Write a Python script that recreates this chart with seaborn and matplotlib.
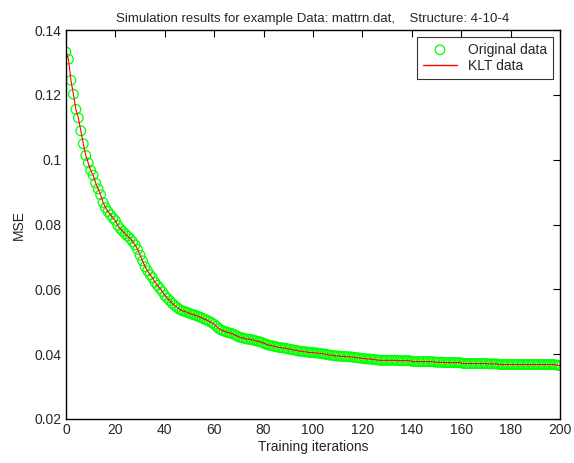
import matplotlib
matplotlib.use('Agg')
import matplotlib.pyplot as plt
import seaborn as sns
import numpy as np
import pandas as pd

# iterations 0..200
iterations = list(range(201))

mse_original = [
    0.1332, 0.1310, 0.1245, 0.1202, 0.1155, 0.1129, 0.1089, 0.1049, 0.1013, 0.0990,
    0.0967, 0.0952, 0.0928, 0.0910, 0.0892, 0.0868, 0.0852, 0.0840, 0.0830, 0.0820,
    0.0812, 0.0797, 0.0787, 0.0779, 0.0771, 0.0764, 0.0756, 0.0747, 0.0737, 0.0723,
    0.0705, 0.0688, 0.0670, 0.0657, 0.0645, 0.0636, 0.0622, 0.0612, 0.0603, 0.0593,
    0.0581, 0.0573, 0.0565, 0.0557, 0.0550, 0.0544, 0.0538, 0.0534, 0.0532, 0.0529,
    0.0526, 0.0523, 0.0521, 0.0518, 0.0515, 0.0512, 0.0508, 0.0505, 0.0501, 0.0497,
    0.0492, 0.0485, 0.0478, 0.0474, 0.0471, 0.0468, 0.0466, 0.0464, 0.0461, 0.0457,
    0.0453, 0.0451, 0.0449, 0.0447, 0.0446, 0.0445, 0.0443, 0.0441, 0.0439, 0.0437,
    0.0434, 0.0431, 0.0428, 0.0427, 0.0425, 0.0423, 0.0421, 0.0420, 0.0419, 0.0418,
    0.0416, 0.0415, 0.0413, 0.0412, 0.0410, 0.0409, 0.0408, 0.0407, 0.0406, 0.0405,
    0.0405, 0.0404, 0.0403, 0.0402, 0.0401, 0.0400, 0.0398, 0.0397, 0.0396, 0.0395,
    0.0394, 0.0394, 0.0393, 0.0393, 0.0392, 0.0392, 0.0391, 0.0390, 0.0389, 0.0388,
    0.0387, 0.0386, 0.0385, 0.0385, 0.0384, 0.0383, 0.0382, 0.0381, 0.0381, 0.0381,
    0.0381, 0.0381, 0.0381, 0.0381, 0.0380, 0.0380, 0.0380, 0.0380, 0.0380, 0.0380,
    0.0378, 0.0377, 0.0377, 0.0377, 0.0377, 0.0377, 0.0377, 0.0377, 0.0377, 0.0376,
    0.0375, 0.0375, 0.0375, 0.0374, 0.0374, 0.0374, 0.0374, 0.0374, 0.0374, 0.0374,
    0.0373, 0.0371, 0.0371, 0.0371, 0.0371, 0.0371, 0.0371, 0.0371, 0.0371, 0.0371,
    0.0371, 0.0370, 0.0370, 0.0370, 0.0370, 0.0369, 0.0368, 0.0368, 0.0368, 0.0368,
    0.0368, 0.0368, 0.0368, 0.0368, 0.0368, 0.0368, 0.0368, 0.0368, 0.0368, 0.0368,
    0.0368, 0.0368, 0.0368, 0.0368, 0.0368, 0.0368, 0.0368, 0.0368, 0.0367, 0.0366,
    0.0365,
]
mse_klt = list(mse_original)

df = pd.DataFrame({"iter": iterations, "orig": mse_original, "klt": mse_klt})

sns.set_style("white")
plt.rcParams['font.family'] = ['Liberation Sans', 'DejaVu Sans']

fig = plt.figure(figsize=(5.74, 4.63), dpi=100)
ax = fig.add_axes([66 / 574, 1 - 419 / 463, (560 - 66) / 574, (419 - 30) / 463])

sns.scatterplot(data=df, x="iter", y="orig", ax=ax, marker="o", s=48,
                facecolors="none", edgecolor="#00ff00", linewidth=0.9,
                label="Original data")
sns.lineplot(data=df, x="iter", y="klt", ax=ax, color="#ff0000", linewidth=0.8,
             label="KLT data")

ax.set_xlim(0, 200)
ax.set_ylim(0.02, 0.14)
ax.set_xticks(np.arange(0, 201, 20))
ax.set_yticks([0.02, 0.04, 0.06, 0.08, 0.1, 0.12, 0.14])
ax.set_yticklabels(["0.02", "0.04", "0.06", "0.08", "0.1", "0.12", "0.14"])
ax.tick_params(direction="in", top=True, right=True, length=5, width=0.8,
               labelsize=10, color="black", pad=3)
for sp in ax.spines.values():
    sp.set_color("black")
    sp.set_linewidth(1.0)

ax.set_xlabel("Training iterations", fontsize=10, labelpad=2)
ax.set_ylabel("MSE", fontsize=10, labelpad=6)
ax.set_title("Simulation results for example Data: mattrn.dat,    Structure: 4-10-4",
             fontsize=9.5, pad=6)

leg = ax.legend(loc="upper right", fontsize=10, frameon=True, fancybox=False,
                edgecolor="black", borderaxespad=0.5, handlelength=2.5,
                labelspacing=0.2)
leg.get_frame().set_linewidth(0.8)
handles = leg.legend_handles
handles[1].set_color("#ff0000")
handles[1].set_linewidth(1.0)

fig.savefig("out.png", dpi=100)
